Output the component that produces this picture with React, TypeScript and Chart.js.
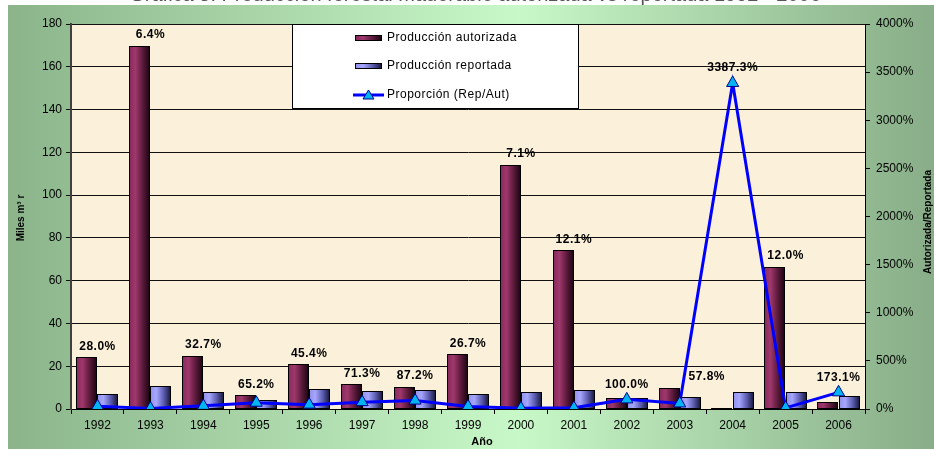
import React, { useEffect, useRef } from "react";
import { Chart, registerables } from "chart.js";

Chart.register(...registerables);

const TITLE = "Gráfica 5. Producción forestal maderable autorizada vs reportada 1992 - 2006";
const years = ["1992", "1993", "1994", "1995", "1996", "1997", "1998", "1999", "2000", "2001", "2002", "2003", "2004", "2005", "2006"];
const autorizada = [24.2, 169.8, 24.8, 6.4, 20.9, 11.5, 10.4, 25.6, 114.0, 74.2, 5.0, 10.0, 0.24, 66.4, 3.5];
const reportada = [6.8, 10.8, 8.1, 4.2, 9.5, 8.2, 9.1, 6.8, 8.1, 9.0, 5.0, 5.8, 8.1, 8.0, 6.0];
const proporcion = [28.0, 6.4, 32.7, 65.2, 45.4, 71.3, 87.2, 26.7, 7.1, 12.1, 100.0, 57.8, 3387.3, 12.0, 173.1];
const leftTicksMax = 180;
const rightTicksMax = 4000;
const LABEL_NUDGE_X: Record<string, number> = { "2003": 27 };

const FONT = '"Liberation Sans", Arial, sans-serif';
const AUT_STOPS: [number, string][] = [[0, "#84285c"], [0.3, "#a0386c"], [0.65, "#5c1a3c"], [1, "#16040e"]];
const REP_STOPS: [number, string][] = [[0, "#9090ea"], [0.3, "#a6a6fe"], [0.65, "#5c5cb0"], [1, "#121234"]];

function grad(ctx: CanvasRenderingContext2D, l: number, w: number, stops: [number, string][]) {
  const g = ctx.createLinearGradient(l, 0, l + w, 0);
  stops.forEach(([o, c]) => g.addColorStop(o, c));
  return g;
}

const bgPlugin = {
  id: "bg",
  beforeDraw(chart: any) {
    const { ctx, width, height, chartArea: a } = chart;
    ctx.save();
    ctx.fillStyle = "#ffffff";
    ctx.fillRect(0, 0, width, height);
    const g = ctx.createLinearGradient(8, 0, width, 0);
    g.addColorStop(0, "#8bb48b");
    g.addColorStop(0.55, "#c8f8c8");
    g.addColorStop(1, "#88ad88");
    ctx.fillStyle = g;
    ctx.fillRect(8, 5, width - 8, height - 5);
    ctx.fillStyle = "#fbf1da";
    ctx.fillRect(a.left, a.top, a.right - a.left, a.bottom - a.top);
    ctx.fillStyle = "#555";
    ctx.font = `20px ${FONT}`;
    ctx.textAlign = "center";
    ctx.textBaseline = "alphabetic";
    ctx.fillText(TITLE, 475, 1);
    ctx.restore();
  },
};

const barPlugin = {
  id: "bars3d",
  beforeDatasetDraw(chart: any, args: any) {
    const meta = args.meta;
    if (meta.type !== "bar") return;
    const ctx = chart.ctx as CanvasRenderingContext2D;
    const a = chart.chartArea;
    const stops = args.index === 1 ? AUT_STOPS : REP_STOPS;
    ctx.save();
    ctx.beginPath();
    ctx.rect(a.left, a.top - 1, a.right - a.left, a.bottom - a.top + 1);
    ctx.clip();
    meta.data.forEach((el: any) => {
      const l = Math.round(el.x - el.width / 2);
      const w = Math.round(el.width);
      const t = Math.round(el.y);
      const b = Math.round(el.base);
      const h = Math.max(b - t, 1);
      ctx.fillStyle = grad(ctx, l, w, stops);
      ctx.fillRect(l, b - h, w, h);
      ctx.strokeStyle = "#000";
      ctx.lineWidth = 1;
      ctx.strokeRect(l + 0.5, b - h + 0.5, w - 1, h - 1);
    });
    ctx.restore();
    return false;
  },
};

const labelPlugin = {
  id: "labels",
  afterDatasetsDraw(chart: any) {
    const ctx = chart.ctx as CanvasRenderingContext2D;
    const lineMeta = chart.getDatasetMeta(0);
    const autMeta = chart.getDatasetMeta(1);
    ctx.save();
    ctx.font = `bold 12px ${FONT}`;
    (ctx as any).letterSpacing = "0.5px";
    ctx.fillStyle = "#000";
    ctx.textAlign = "center";
    ctx.textBaseline = "middle";
    proporcion.forEach((v, i) => {
      const p = lineMeta.data[i];
      const bar = autMeta.data[i];
      const top = Math.min(bar.y, p.y - 4);
      const x = p.x + (LABEL_NUDGE_X[years[i]] || 0);
      ctx.fillText(v.toFixed(1) + "%", x, top - 11);
    });
    ctx.restore();
  },
};

const overlayPlugin = {
  id: "overlay",
  afterDraw(chart: any) {
    const ctx = chart.ctx as CanvasRenderingContext2D;
    ctx.save();
    const lx = 292, ly = 24, lw = 287, lh = 85;
    ctx.fillStyle = "#fff";
    ctx.fillRect(lx, ly, lw, lh);
    ctx.strokeStyle = "#000";
    ctx.lineWidth = 1;
    ctx.strokeRect(lx + 0.5, ly + 0.5, lw - 1, lh - 1);
    const items = [
      { y: 38, label: chart.data.datasets[1].label, kind: "aut" },
      { y: 66, label: chart.data.datasets[2].label, kind: "rep" },
      { y: 95, label: chart.data.datasets[0].label, kind: "line" },
    ];
    ctx.font = `12px ${FONT}`;
    (ctx as any).letterSpacing = "0.5px";
    ctx.textAlign = "left";
    ctx.textBaseline = "middle";
    items.forEach((it) => {
      if (it.kind === "line") {
        ctx.strokeStyle = "#0000ff";
        ctx.lineWidth = 3;
        ctx.beginPath();
        ctx.moveTo(353, it.y);
        ctx.lineTo(384, it.y);
        ctx.stroke();
        ctx.fillStyle = "#00b4f4";
        ctx.strokeStyle = "#00008b";
        ctx.lineWidth = 1;
        ctx.beginPath();
        ctx.moveTo(368.5, it.y - 5);
        ctx.lineTo(374, it.y + 4);
        ctx.lineTo(363, it.y + 4);
        ctx.closePath();
        ctx.fill();
        ctx.stroke();
      } else {
        const stops = it.kind === "aut" ? AUT_STOPS : REP_STOPS;
        ctx.fillStyle = grad(ctx, 355, 27, stops);
        ctx.fillRect(355, it.y - 3, 27, 6);
        ctx.strokeStyle = "#000";
        ctx.lineWidth = 1;
        ctx.strokeRect(355.5, it.y - 2.5, 26, 5);
      }
      ctx.fillStyle = "#000";
      ctx.fillText(it.label, 387, it.y);
    });
    (ctx as any).letterSpacing = "0px";
    ctx.font = `bold 11px ${FONT}`;
    ctx.textAlign = "center";
    ctx.fillText("Año", 482, 442);
    ctx.font = `bold 10px ${FONT}`;
    ctx.save();
    ctx.translate(21, 218);
    ctx.rotate(-Math.PI / 2);
    ctx.fillText("Miles m³ r", 0, 0);
    ctx.restore();
    ctx.save();
    ctx.translate(928, 222);
    ctx.rotate(-Math.PI / 2);
    ctx.fillText("Autorizada/Reportada", 0, 0);
    ctx.restore();
    ctx.restore();
  },
};

export default function App() {
  const ref = useRef<HTMLCanvasElement | null>(null);
  useEffect(() => {
    if (!ref.current) return;
    const tickFont = { family: FONT, size: 12 };
    const chart = new Chart(ref.current, {
      type: "bar",
      data: {
        labels: years,
        datasets: [
          {
            type: "line",
            label: "Proporción (Rep/Aut)",
            data: proporcion,
            yAxisID: "y1",
            borderColor: "#0000ff",
            borderWidth: 3,
            pointStyle: "triangle",
            pointRadius: 7,
            pointBackgroundColor: "#00b4f4",
            pointBorderColor: "#00008b",
            pointBorderWidth: 1,
            tension: 0,
            order: 0,
          } as any,
          {
            type: "bar",
            label: "Producción autorizada",
            data: autorizada,
            yAxisID: "y",
            backgroundColor: "#8a2e5c",
            categoryPercentage: 0.8,
            barPercentage: 1.0,
            order: 1,
          },
          {
            type: "bar",
            label: "Producción reportada",
            data: reportada,
            yAxisID: "y",
            backgroundColor: "#9a9af4",
            categoryPercentage: 0.8,
            barPercentage: 1.0,
            order: 2,
          },
        ],
      },
      options: {
        responsive: false,
        animation: false,
        devicePixelRatio: 1,
        layout: { padding: { top: 24, left: 0, right: 0, bottom: 0 } },
        plugins: { legend: { display: false }, tooltip: { enabled: false } },
        scales: {
          x: {
            offset: true,
            grid: { offset: true, drawOnChartArea: false, color: "#000", tickLength: 5 },
            border: { color: "#000", width: 1 },
            ticks: { color: "#000", font: tickFont, padding: 4, maxRotation: 0, autoSkip: false },
            afterFit: (s: any) => { s.height = 40; },
          },
          y: {
            position: "left",
            min: 0,
            max: leftTicksMax,
            ticks: { stepSize: 20, color: "#000", font: tickFont, padding: 4 },
            grid: { color: "#111", lineWidth: 1, tickLength: 5 },
            border: { color: "#404040", width: 2 },
            afterFit: (s: any) => { s.width = 71; },
          },
          y1: {
            position: "right",
            min: 0,
            max: rightTicksMax,
            ticks: { stepSize: 500, color: "#000", font: tickFont, padding: 6, callback: (v: any) => v + "%" },
            grid: { drawOnChartArea: false, color: "#000", tickLength: 5 },
            border: { color: "#000", width: 1 },
            afterFit: (s: any) => { s.width = 69; },
          },
        },
      },
      plugins: [bgPlugin, barPlugin, labelPlugin, overlayPlugin],
    });
    return () => chart.destroy();
  }, []);
  return (
    <div style={{ position: "fixed", left: 0, top: 0, width: 934, height: 449 }}>
      <canvas ref={ref} width={934} height={449} style={{ display: "block", width: 934, height: 449 }} />
    </div>
  );
}
